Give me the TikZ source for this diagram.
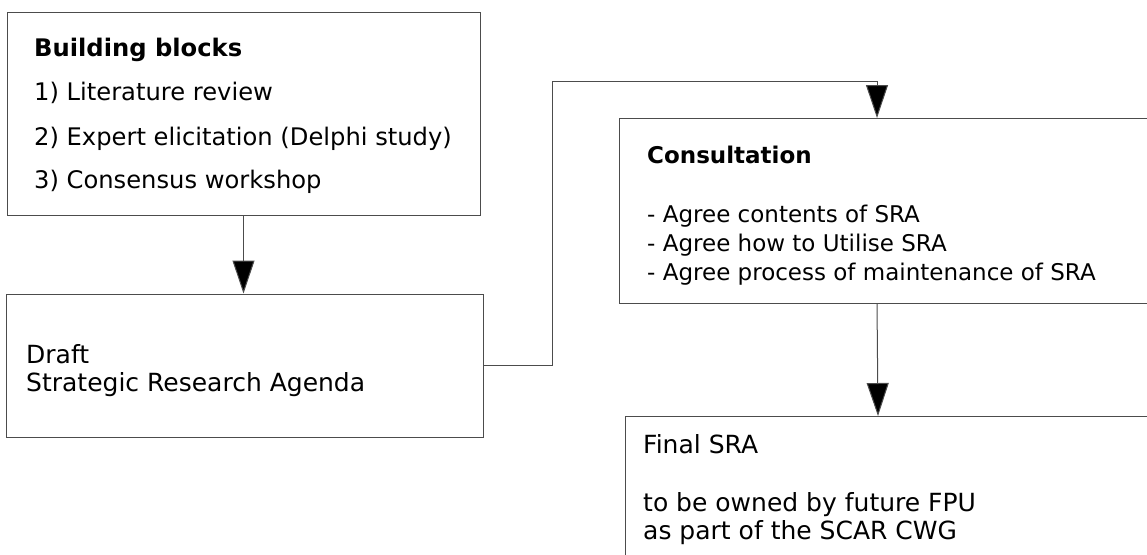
\documentclass[tikz,border=0pt]{standalone}
\usepackage{fontspec}
\setmainfont{DejaVu Sans}
\usetikzlibrary{arrows.meta,fit}
\tikzset{
  box/.style={draw=black!70, line width=1pt, inner sep=0pt, fill=none},
  txt/.style={anchor=base west, inner sep=0pt, font=\fontsize{23}{28}\selectfont},
  txtb/.style={txt, font=\fontsize{24.2}{28}\selectfont},
  txtc/.style={txt, font=\fontsize{25}{28}\selectfont},
  head/.style={txt, font=\fontsize{23}{28}\selectfont\bfseries},
  headb/.style={txt, font=\fontsize{24.2}{28}\selectfont\bfseries},
  conn/.style={draw=black!70, line width=1pt, -{Triangle[width=22pt,length=33pt,fill=black]}},
}
\begin{document}
\begin{tikzpicture}[x=1pt,y=-1pt]
\useasboundingbox (0,0) rectangle (1147,554);
\clip (0,0) rectangle (1147,554);
% boxes
\node[box, fit={(7,12) (480,215)}] (bb) {};
\node[box, fit={(6,294) (483,437)}] (draft) {};
\node[box, fit={(619,118) (1165,303)}] (consult) {};
\node[box, fit={(625,416) (1165,575)}] (final) {};
% texts
\node[headb] (t1) at (34,56) {Building blocks};
\node[txtb] (t2) at (34,100) {1) Literature review};
\node[txtb] (t3) at (34,145) {2) Expert elicitation (Delphi study)};
\node[txtb] (t4) at (34,188) {3) Consensus workshop};
\node[txtc] (t5) at (26,363) {Draft};
\node[txtc] (t6) at (26,391) {Strategic Research Agenda};
\node[head] (t7) at (647,163) {Consultation};
\node[txt] (t8) at (647,222) {- Agree contents of SRA};
\node[txt] (t9) at (647,251) {- Agree how to Utilise SRA};
\node[txt] (t10) at (647,280) {- Agree process of maintenance of SRA};
\node[txtc] (t11) at (643,453) {Final SRA};
\node[txtc] (t12) at (643,511) {to be owned by future FPU};
\node[txtc] (t13) at (643,539) {as part of the SCAR CWG};
% connectors
\coordinate (turn) at (552,81);
\coordinate (cin) at (877,118);
\coordinate (fin) at (878,416);
\draw[conn] (bb.south) -- (bb.south |- draft.north);
\draw[conn] (draft.east) -| (turn) -| (cin);
\draw[conn] (cin |- consult.south) -- (fin);
\end{tikzpicture}
\end{document}
